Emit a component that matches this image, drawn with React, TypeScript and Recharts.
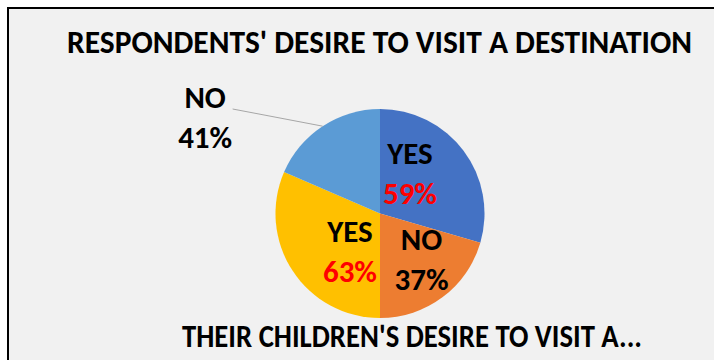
import React from "react";
import { PieChart, Pie, Cell } from "recharts";

// slice sizes and the texts shown on them
const sliceNames = ["YES", "NO", "YES", "NO"];
const sliceValues = [59, 41, 63, 37];
const labelPercents = ["59%", "37%", "63%", "41%"];
const percentColors = ["#FF0000", "#000000", "#FF0000", "#000000"];
const sliceColors = ["#4472C4", "#ED7D31", "#FFC000", "#5B9BD5"];
const chartTitle = "RESPONDENTS' DESIRE TO VISIT A DESTINATION";
const secondTitle = "THEIR CHILDREN'S DESIRE TO VISIT A...";

// label placement relative to each slice's mid-angle
const labelAngleShift = [-16, -5, -19, 0];
const labelRadius = [0.475, 0.595, 0.47, 0];

const data = sliceValues.map((v, i) => ({
  name: sliceNames[i],
  value: v,
  pct: labelPercents[i],
}));

const FONT = "Carlito, Calibri, Lato, 'Open Sans', sans-serif";
const RAD = Math.PI / 180;
const W = 707;
const H = 353;
const CX = 371;
const CY = 204.5;
const R = 104.5;
const LABEL_SIZE = 31;
const TITLE_SIZE = 31.5;

const renderLabel = (props: any) => {
  const { cx, cy, midAngle, outerRadius, index } = props;
  const theta = 90 - midAngle;
  const style = { fontFamily: FONT, fontSize: LABEL_SIZE, fontWeight: 700 } as any;
  const half = LABEL_SIZE * 0.644 * 0.5;
  let bx: number;
  let by: number;
  let leader: React.ReactNode = null;
  if (index === 3) {
    const sx = cx + outerRadius * Math.sin(theta * RAD);
    const sy = cy - outerRadius * Math.cos(theta * RAD);
    const ex = cx - 1.41 * outerRadius;
    const ey = cy - 1.0 * outerRadius;
    leader = (
      <line x1={sx} y1={sy} x2={ex} y2={ey} stroke="#A6A6A6" strokeWidth={1} />
    );
    bx = ex - 27.5;
    by = ey + 9;
  } else {
    const a = (theta + labelAngleShift[index]) * RAD;
    const rr = labelRadius[index] * outerRadius;
    bx = cx + rr * Math.sin(a);
    by = cy - rr * Math.cos(a);
  }
  return (
    <g key={`lbl-${index}`}>
      {leader}
      <text x={bx} y={by - 20 + half} textAnchor="middle" fill="#000" style={style}>
        {sliceNames[index]}
      </text>
      <text x={bx} y={by + 20 + half} textAnchor="middle" fill={percentColors[index]} style={style}>
        {labelPercents[index]}
      </text>
    </g>
  );
};

export default function App() {
  return (
    <div
      style={{
        position: "fixed",
        left: 7,
        top: 7,
        width: W,
        height: H,
        borderTop: "2px solid #000",
        borderLeft: "2px solid #000",
        background: "#F1F1F1",
        overflow: "hidden",
      }}
    >
      <style>{`.recharts-pie-sectors { filter: drop-shadow(0px 2px 2.5px rgba(0,0,0,0.22)); }`}</style>
      <div style={{ position: "absolute", left: 0, top: 0 }}>
        <PieChart width={W} height={H} margin={{ top: 0, right: 0, bottom: 0, left: 0 }}>
          <Pie
            data={data}
            dataKey="value"
            nameKey="name"
            cx={CX}
            cy={CY}
            outerRadius={R}
            startAngle={90}
            endAngle={-270}
            stroke="none"
            isAnimationActive={false}
            labelLine={false}
            label={renderLabel}
          >
            {data.map((d, i) => (
              <Cell key={i} fill={sliceColors[i]} />
            ))}
          </Pie>
        </PieChart>
      </div>
      <svg
        width={W}
        height={H}
        style={{ position: "absolute", left: 0, top: 0, pointerEvents: "none" }}
      >
        <text
          x={370.5}
          y={44}
          textAnchor="middle"
          fill="#000"
          style={{ fontFamily: FONT, fontSize: TITLE_SIZE, fontWeight: 700 }}
        >
          {chartTitle}
        </text>
        <text
          x={403}
          y={337.5}
          textAnchor="middle"
          fill="#000"
          textLength={460}
          lengthAdjust="spacingAndGlyphs"
          style={{ fontFamily: FONT, fontSize: 33, fontWeight: 700 }}
        >
          {secondTitle}
        </text>
      </svg>
    </div>
  );
}
